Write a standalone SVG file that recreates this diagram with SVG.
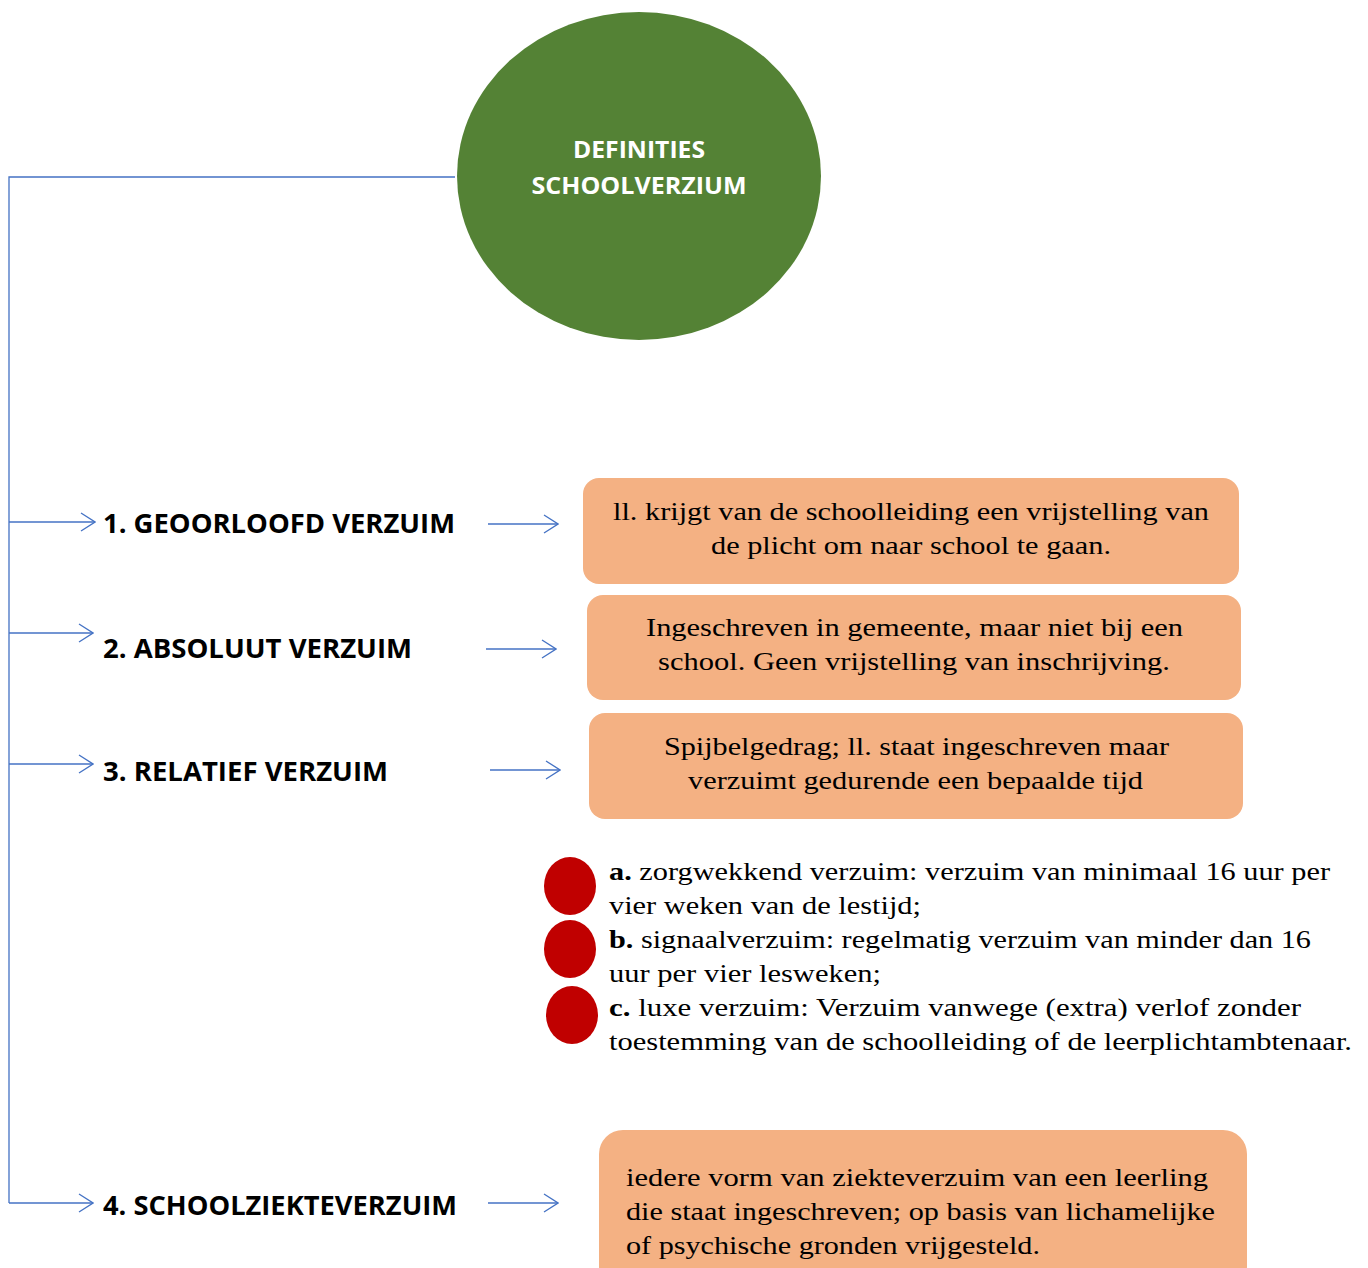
<svg xmlns="http://www.w3.org/2000/svg" width="1368" height="1268" viewBox="0 0 1368 1268">
<defs>
<style>
.ln{stroke:#4472C4;stroke-width:1.3;fill:none}
.lbl{font-family:"Open Sans","Liberation Sans",sans-serif;font-weight:bold;font-size:26px;fill:#000}
.box{fill:#F4B183}
.bt{font-family:"Liberation Serif","DejaVu Serif",serif;font-size:26px;fill:#000}
.dot{fill:#C00000}
.ct{font-family:"Open Sans","Liberation Sans",sans-serif;font-weight:bold;font-size:23px;fill:#fff;text-anchor:middle}
</style>
<marker id="ah" viewBox="0 0 16 20" refX="15" refY="10" markerWidth="16" markerHeight="20" markerUnits="userSpaceOnUse" orient="auto">
<path d="M1,1 L15,10 L1,19" fill="none" stroke="#4472C4" stroke-width="1.3"/>
</marker>
</defs>
<rect width="1368" height="1268" fill="#fff"/>
<g id="connectors">
<path class="ln" d="M455,177 H9 V1203"/>
<line class="ln" x1="9" y1="522" x2="95" y2="522" marker-end="url(#ah)"/>
<line class="ln" x1="9" y1="633" x2="93" y2="633" marker-end="url(#ah)"/>
<line class="ln" x1="9" y1="764" x2="93" y2="764" marker-end="url(#ah)"/>
<line class="ln" x1="9" y1="1203" x2="93" y2="1203" marker-end="url(#ah)"/>
<line class="ln" x1="488" y1="524" x2="558" y2="524" marker-end="url(#ah)"/>
<line class="ln" x1="486" y1="649" x2="556" y2="649" marker-end="url(#ah)"/>
<line class="ln" x1="490" y1="770" x2="560" y2="770" marker-end="url(#ah)"/>
<line class="ln" x1="488" y1="1203" x2="558" y2="1203" marker-end="url(#ah)"/>
</g>
<g id="root">
<ellipse cx="639" cy="176" rx="182" ry="164" fill="#548235"/>
<text class="ct" x="639" y="158" textLength="132" lengthAdjust="spacingAndGlyphs">DEFINITIES</text>
<text class="ct" x="639" y="194" textLength="215" lengthAdjust="spacingAndGlyphs">SCHOOLVERZIUM</text>
</g>
<g id="label1"><text class="lbl" x="103" y="533" textLength="352" lengthAdjust="spacingAndGlyphs">1. GEOORLOOFD VERZUIM</text></g>
<g id="label2"><text class="lbl" x="103" y="658" textLength="309" lengthAdjust="spacingAndGlyphs">2. ABSOLUUT VERZUIM</text></g>
<g id="label3"><text class="lbl" x="103" y="781" textLength="285" lengthAdjust="spacingAndGlyphs">3. RELATIEF VERZUIM</text></g>
<g id="label4"><text class="lbl" x="103" y="1215" textLength="354" lengthAdjust="spacingAndGlyphs">4. SCHOOLZIEKTEVERZUIM</text></g>
<g id="box1">
<rect class="box" x="583" y="478" width="656" height="106" rx="16"/>
<text class="bt" x="613" y="520" textLength="596" lengthAdjust="spacingAndGlyphs">ll. krijgt van de schoolleiding een vrijstelling van</text>
<text class="bt" x="711" y="554" textLength="400" lengthAdjust="spacingAndGlyphs">de plicht om naar school te gaan.</text>
</g>
<g id="box2">
<rect class="box" x="587" y="595" width="654" height="105" rx="16"/>
<text class="bt" x="646" y="636" textLength="537" lengthAdjust="spacingAndGlyphs">Ingeschreven in gemeente, maar niet bij een</text>
<text class="bt" x="658" y="670" textLength="512" lengthAdjust="spacingAndGlyphs">school. Geen vrijstelling van inschrijving.</text>
</g>
<g id="box3">
<rect class="box" x="589" y="713" width="654" height="106" rx="16"/>
<text class="bt" x="664" y="755" textLength="505" lengthAdjust="spacingAndGlyphs">Spijbelgedrag; ll. staat ingeschreven maar</text>
<text class="bt" x="688" y="789" textLength="455" lengthAdjust="spacingAndGlyphs">verzuimt gedurende een bepaalde tijd</text>
</g>
<g id="list">
<ellipse class="dot" cx="570" cy="886" rx="26" ry="29"/>
<ellipse class="dot" cx="570" cy="949" rx="26" ry="29"/>
<ellipse class="dot" cx="572" cy="1015" rx="26" ry="29"/>
<text class="bt" x="609" y="880" textLength="721" lengthAdjust="spacingAndGlyphs"><tspan font-weight="bold">a.</tspan> zorgwekkend verzuim: verzuim van minimaal 16 uur per</text>
<text class="bt" x="609" y="914" textLength="312" lengthAdjust="spacingAndGlyphs">vier weken van de lestijd;</text>
<text class="bt" x="609" y="948" textLength="702" lengthAdjust="spacingAndGlyphs"><tspan font-weight="bold">b.</tspan> signaalverzuim: regelmatig verzuim van minder dan 16</text>
<text class="bt" x="609" y="982" textLength="272" lengthAdjust="spacingAndGlyphs">uur per vier lesweken;</text>
<text class="bt" x="609" y="1016" textLength="692" lengthAdjust="spacingAndGlyphs"><tspan font-weight="bold">c.</tspan> luxe verzuim: Verzuim vanwege (extra) verlof zonder</text>
<text class="bt" x="609" y="1050" textLength="743" lengthAdjust="spacingAndGlyphs">toestemming van de schoolleiding of de leerplichtambtenaar.</text>
</g>
<g id="box4">
<rect class="box" x="599" y="1130" width="648" height="160" rx="24"/>
<text class="bt" x="626" y="1186" textLength="582" lengthAdjust="spacingAndGlyphs">iedere vorm van ziekteverzuim van een leerling</text>
<text class="bt" x="626" y="1220" textLength="589" lengthAdjust="spacingAndGlyphs">die staat ingeschreven; op basis van lichamelijke</text>
<text class="bt" x="626" y="1254" textLength="414" lengthAdjust="spacingAndGlyphs">of psychische gronden vrijgesteld.</text>
</g>
</svg>
